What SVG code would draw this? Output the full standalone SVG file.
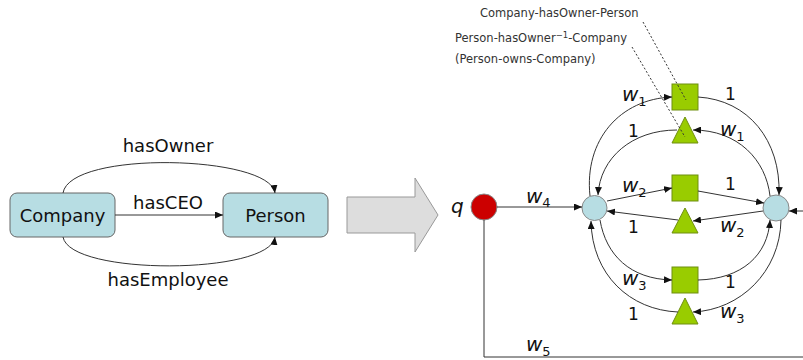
<svg xmlns="http://www.w3.org/2000/svg" width="803" height="360" viewBox="0 0 803 360">
<defs>
<marker id="ah" markerWidth="8" markerHeight="7" refX="8" refY="3.5" orient="auto" markerUnits="userSpaceOnUse">
<path d="M0,0 L8,3.5 L0,7 z" fill="#111"/>
</marker>
<style>
.box{fill:#b7dde3;stroke:#666;stroke-width:1}
.lbl{font-family:"DejaVu Sans",Verdana,sans-serif;font-size:18px;fill:#111}
.edge{fill:none;stroke:#333;stroke-width:1;marker-end:url(#ah)}
.line{fill:none;stroke:#333;stroke-width:1}
.dot{fill:none;stroke:#333;stroke-width:1;stroke-dasharray:2,2}
.sq{fill:#99cc00;stroke:#6f8f10;stroke-width:1}
.cir{fill:#b7dde3;stroke:#888;stroke-width:1}
.w{font-family:"DejaVu Sans",Verdana,sans-serif;font-size:20px;font-style:italic;fill:#111}
.sub{font-size:13px;font-style:normal}
.one{font-family:"DejaVu Sans",Verdana,sans-serif;font-size:17px;fill:#111}
.note{font-family:"DejaVu Sans",Verdana,sans-serif;font-size:11.5px;fill:#333}
</style>
</defs>

<!-- left ontology graph -->
<g id="company"><rect class="box" x="10" y="193" width="105" height="44" rx="7"/><text class="lbl" x="62.5" y="222" text-anchor="middle">Company</text></g>
<g id="person"><rect class="box" x="223" y="193" width="105" height="44" rx="7"/><text class="lbl" x="275.5" y="222" text-anchor="middle">Person</text></g>
<g id="left-edges">
<path class="edge" d="M63,193 C70,150 270,155 275,193"/>
<path class="edge" d="M115,215 H223"/>
<path class="edge" d="M63,237 C70,276 270,275 275,237"/>
<text class="lbl" x="168" y="152" text-anchor="middle">hasOwner</text>
<text class="lbl" x="168" y="209" text-anchor="middle">hasCEO</text>
<text class="lbl" x="168" y="286" text-anchor="middle">hasEmployee</text>
</g>

<!-- big arrow -->
<g id="bigarrow"><polygon points="347,197 415,197 415,178 438,215 415,252 415,233 347,233" fill="#dddddd" stroke="#999" stroke-width="1"/></g>

<!-- network nodes -->
<g id="q"><circle cx="484" cy="207" r="13" fill="#cc0000" stroke="#888" stroke-width="1"/><text class="w" x="451" y="213">q</text></g>
<g id="leftnode"><circle class="cir" cx="594.5" cy="208" r="12.5"/></g>
<g id="rightnode"><circle class="cir" cx="776" cy="208" r="13"/></g>
<g id="sq1"><rect class="sq" x="672" y="84" width="26" height="26"/></g>
<g id="tri1"><polygon class="sq" points="685,117 698,143 672,143"/></g>
<g id="sq2"><rect class="sq" x="672" y="175" width="26" height="26"/></g>
<g id="tri2"><polygon class="sq" points="685,208 698,233 672,233"/></g>
<g id="sq3"><rect class="sq" x="672" y="267" width="26" height="26"/></g>
<g id="tri3"><polygon class="sq" points="685,298 698,324 672,324"/></g>

<!-- annotations -->
<g id="notes">
<text class="note" x="480" y="17">Company-hasOwner-Person</text>
<text class="note" x="455" y="42">Person-hasOwner<tspan font-size="8.5" dy="-4">−1</tspan><tspan dy="4">-Company</tspan></text>
<text class="note" x="455" y="63">(Person-owns-Company)</text>
<path class="dot" d="M643,22 L686,100"/>
<path class="dot" d="M632,47 L685,137"/>
</g>

<!-- connectors -->
<g id="connectors">
<path class="edge" d="M497,207 H582"/>
<path class="line" d="M484,220 V357 H806"/>
<path class="edge" d="M806,211 H789"/>
<path class="edge" d="M590,196 C584,140 620,99 672,97"/>
<path class="edge" d="M698,97 C748,100 781,140 779,195"/>
<path class="edge" d="M770,196 C766,160 738,130 693,130"/>
<path class="edge" d="M677,130 C632,130 600,158 598,195"/>
<path class="edge" d="M607,201 L672,188"/>
<path class="edge" d="M698,191 L764,203"/>
<path class="edge" d="M763,211 L693,221"/>
<path class="edge" d="M678,220 L607,211"/>
<path class="edge" d="M600,220 C606,255 630,279 672,280"/>
<path class="edge" d="M698,280 C742,279 768,255 770,220"/>
<path class="edge" d="M781,220 C780,272 740,310 693,312"/>
<path class="edge" d="M678,312 C630,310 592,275 591,221"/>
</g>

<!-- weight labels -->
<g id="labels">
<text class="w" x="622" y="101">w<tspan class="sub" dy="5">1</tspan></text>
<text class="one" x="725" y="100">1</text>
<text class="one" x="628" y="137">1</text>
<text class="w" x="720" y="136">w<tspan class="sub" dy="5">1</tspan></text>
<text class="w" x="622" y="192">w<tspan class="sub" dy="5">2</tspan></text>
<text class="one" x="725" y="190">1</text>
<text class="one" x="628" y="233">1</text>
<text class="w" x="720" y="232">w<tspan class="sub" dy="5">2</tspan></text>
<text class="w" x="622" y="285">w<tspan class="sub" dy="5">3</tspan></text>
<text class="one" x="725" y="288">1</text>
<text class="one" x="628" y="320">1</text>
<text class="w" x="720" y="318">w<tspan class="sub" dy="5">3</tspan></text>
<text class="w" x="526" y="203">w<tspan class="sub" dy="4">4</tspan></text>
<text class="w" x="526" y="351">w<tspan class="sub" dy="5">5</tspan></text>
</g>
</svg>
